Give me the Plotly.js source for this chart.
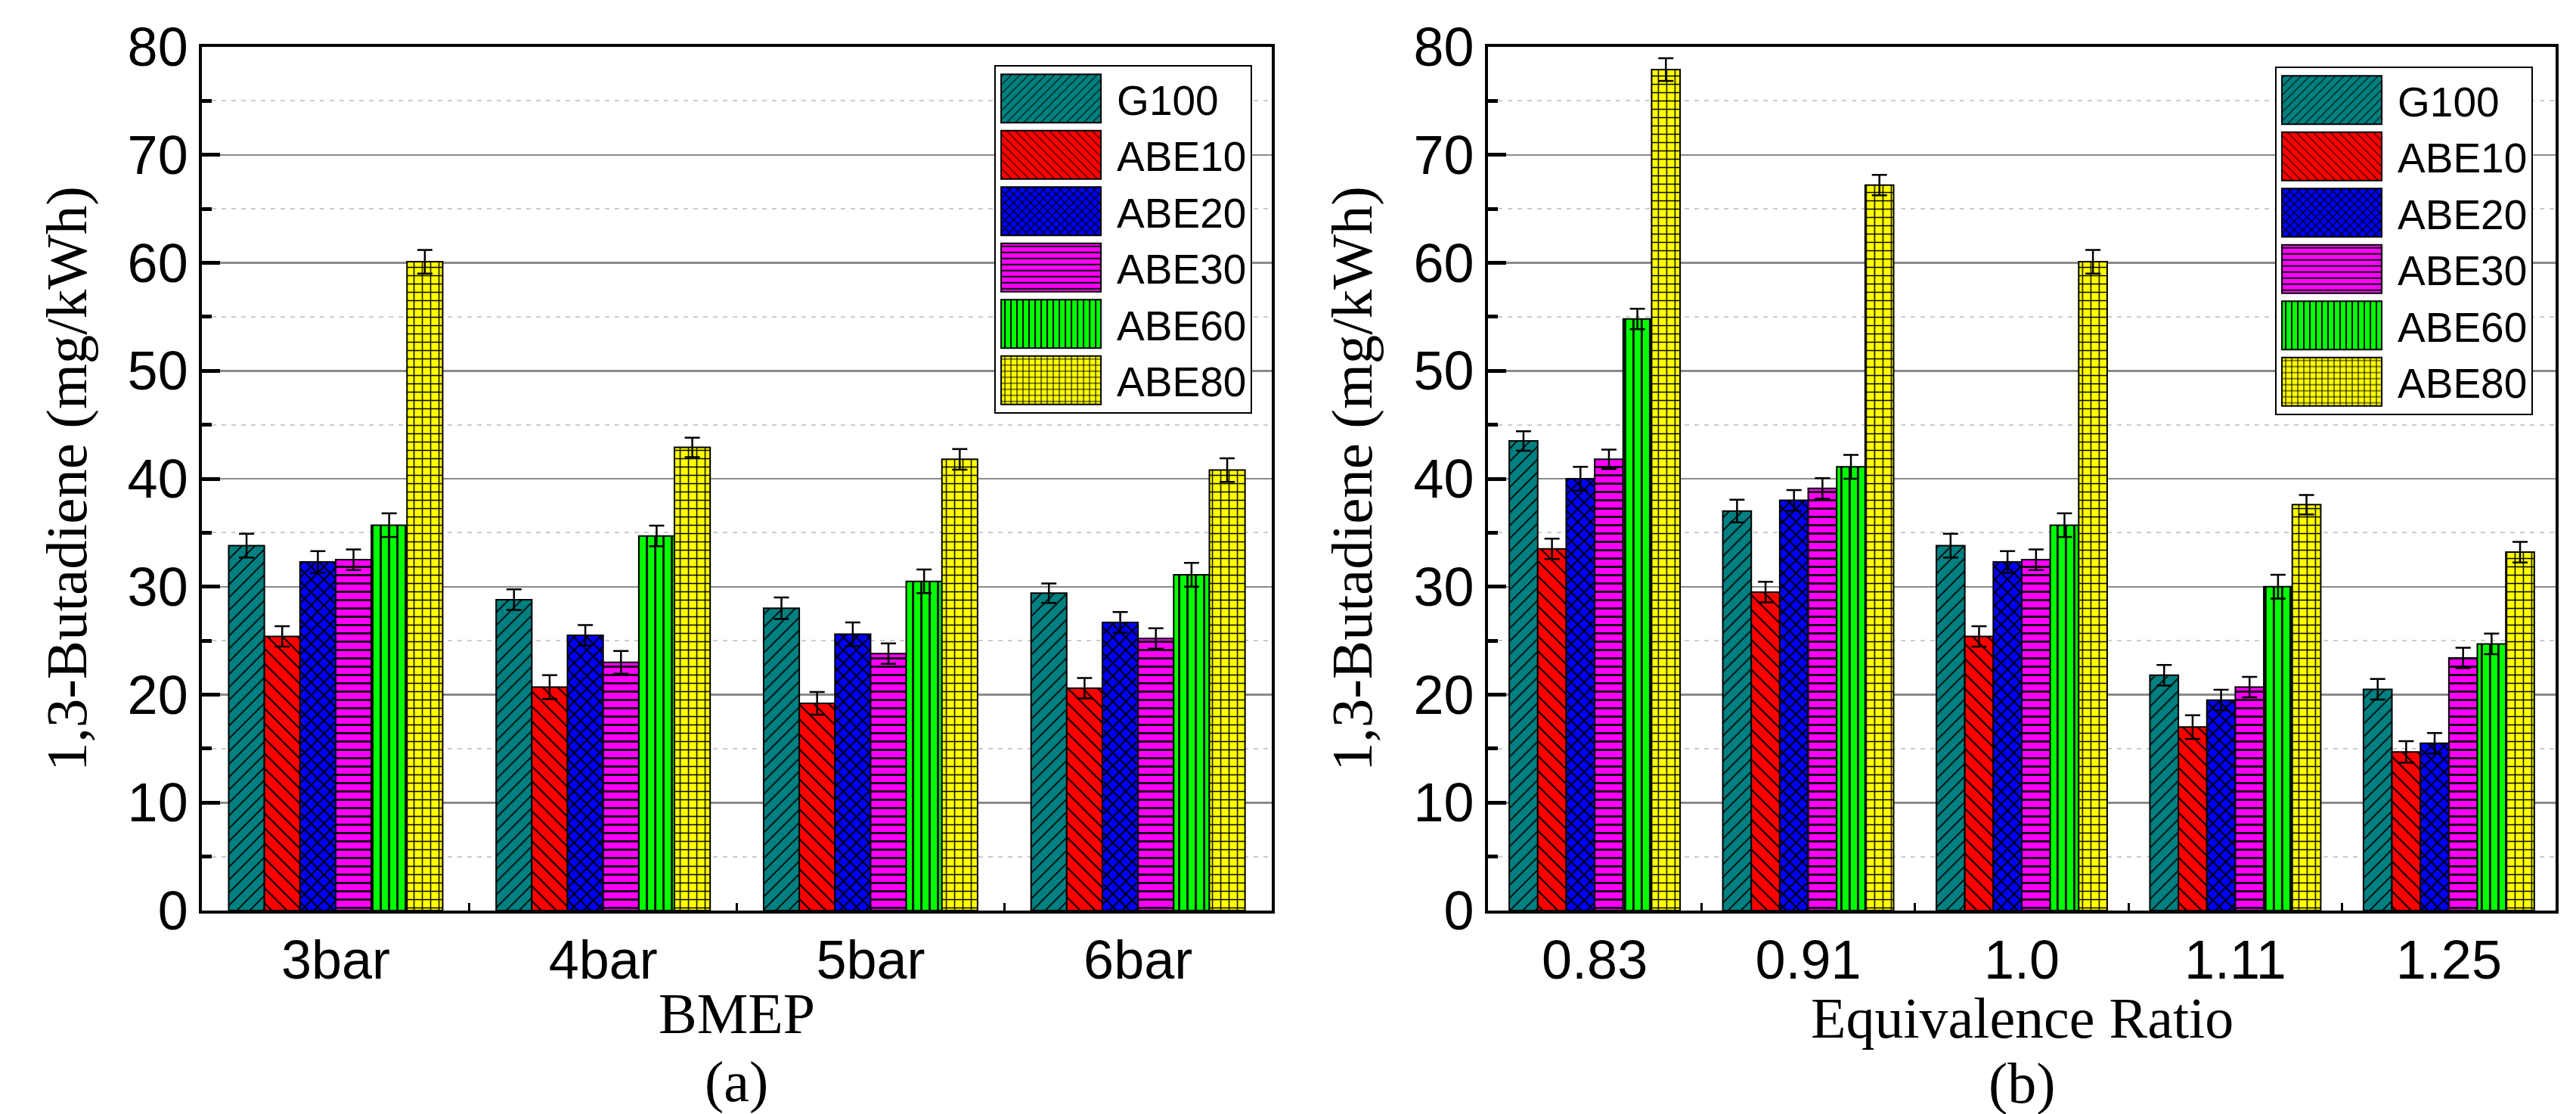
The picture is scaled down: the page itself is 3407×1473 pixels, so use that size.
<!DOCTYPE html>
<html>
<head>
<meta charset="utf-8">
<script src="https://cdn.plot.ly/plotly-3.0.1.min.js"></script>
<style>
	html, body { margin: 0; padding: 0; background: #ffffff; }
	#chart { width: 3407px; height: 1473px; }
</style>
</head>
<body>
<div id="chart"></div>
<script>

// categories of the two panels
var bmep_categories = ['3bar', '4bar', '5bar', '6bar'];
var ratio_categories = ['0.83', '0.91', '1.0', '1.11', '1.25'];

var fuel_names = ['G100', 'ABE10', 'ABE20', 'ABE30', 'ABE60', 'ABE80'];

// panel (a): 1,3-butadiene against BMEP (mg/kWh)
var bmep_g100 = [33.8, 28.8, 28.0, 29.4];
var bmep_abe10 = [25.4, 20.7, 19.2, 20.6];
var bmep_abe20 = [32.3, 25.5, 25.6, 26.7];
var bmep_abe30 = [32.5, 23.0, 23.8, 25.2];
var bmep_abe60 = [35.7, 34.7, 30.5, 31.1];
var bmep_abe80 = [60.1, 42.9, 41.8, 40.8];

var bmep_g100_err = [1.1, 0.95, 1.0, 0.9];
var bmep_abe10_err = [0.95, 1.1, 1.05, 0.95];
var bmep_abe20_err = [1.0, 0.95, 1.1, 0.95];
var bmep_abe30_err = [0.95, 1.05, 0.95, 0.95];
var bmep_abe60_err = [1.1, 0.95, 1.1, 1.1];
var bmep_abe80_err = [1.1, 0.9, 0.95, 1.1];

// panel (b): 1,3-butadiene against equivalence ratio (mg/kWh)
var ratio_g100 = [43.5, 37.0, 33.8, 21.8, 20.5];
var ratio_abe10 = [33.5, 29.5, 25.4, 17.0, 14.7];
var ratio_abe20 = [40.0, 38.0, 32.3, 19.5, 15.5];
var ratio_abe30 = [41.8, 39.1, 32.5, 20.7, 23.4];
var ratio_abe60 = [54.8, 41.1, 35.7, 30.0, 24.7];
var ratio_abe80 = [77.9, 67.2, 60.1, 37.6, 33.2];

var ratio_g100_err = [0.9, 1.05, 1.1, 0.95, 0.95];
var ratio_abe10_err = [0.95, 0.95, 0.95, 1.1, 1.0];
var ratio_abe20_err = [1.1, 0.95, 1.0, 0.95, 0.95];
var ratio_abe30_err = [0.9, 0.95, 0.95, 0.95, 0.95];
var ratio_abe60_err = [0.95, 1.1, 1.1, 1.1, 0.95];
var ratio_abe80_err = [1.05, 0.95, 1.1, 0.9, 0.95];

var bmep_values = [bmep_g100, bmep_abe10, bmep_abe20, bmep_abe30, bmep_abe60, bmep_abe80];
var bmep_errors = [bmep_g100_err, bmep_abe10_err, bmep_abe20_err, bmep_abe30_err, bmep_abe60_err, bmep_abe80_err];
var ratio_values = [ratio_g100, ratio_abe10, ratio_abe20, ratio_abe30, ratio_abe60, ratio_abe80];
var ratio_errors = [ratio_g100_err, ratio_abe10_err, ratio_abe20_err, ratio_abe30_err, ratio_abe60_err, ratio_abe80_err];

// fill colour and hatch of each fuel
var fuel_colours = ['#008080', '#ff0000', '#0000ff', '#ff00ff', '#00ff00', '#ffff00'];
var fuel_hatches = ['/', '\\', 'x', '-', '|', '+'];
var hatch_sizes = [12, 14, 12, 11, 11, 11];
var hatch_solidity = [0.14, 0.14, 0.3, 0.25, 0.25, 0.25];

var sans = 'Arial, "Liberation Sans", sans-serif';
var serif = '"Times New Roman", "Liberation Serif", serif';

function make_bar(i, x_values, y_values, errors, xaxis, yaxis, legend_id) {
	return {
		type: 'bar',
		name: fuel_names[i],
		x: x_values,
		y: y_values,
		xaxis: xaxis,
		yaxis: yaxis,
		legend: legend_id,
		marker: {
			color: fuel_colours[i],
			line: { color: '#000000', width: 2 },
			pattern: {
				shape: fuel_hatches[i],
				bgcolor: fuel_colours[i],
				fgcolor: '#000000',
				fgopacity: 1,
				size: hatch_sizes[i],
				solidity: hatch_solidity[i]
			}
		},
		error_y: {
			type: 'data',
			array: errors,
			visible: true,
			color: '#000000',
			thickness: 2.5,
			width: 10
		},
		hoverinfo: 'x+y+name'
	};
}

var data = [];
for (var i = 0; i < fuel_names.length; i++) {
	data.push(make_bar(i, bmep_categories, bmep_values[i], bmep_errors[i], 'x', 'y', 'legend'));
}
for (var i = 0; i < fuel_names.length; i++) {
	data.push(make_bar(i, ratio_categories, ratio_values[i], ratio_errors[i], 'x2', 'y2', 'legend2'));
}

function x_axis(domain) {
	return {
		domain: domain,
		type: 'category',
		showline: true,
		linewidth: 4,
		linecolor: '#000000',
		mirror: true,
		ticks: 'inside',
		tickson: 'boundaries',
		ticklen: 10,
		tickwidth: 3,
		tickcolor: '#000000',
		showgrid: false,
		zeroline: false,
		tickfont: { family: sans, size: 72, color: '#000000' },
		fixedrange: true
	};
}

function y_axis(domain, anchor) {
	return {
		domain: domain,
		anchor: anchor,
		range: [0, 80],
		dtick: 10,
		showline: true,
		linewidth: 4,
		linecolor: '#000000',
		mirror: true,
		ticks: 'inside',
		ticklen: 24,
		tickwidth: 5,
		tickcolor: '#000000',
		showgrid: true,
		gridcolor: '#8a8a8a',
		gridwidth: 2.5,
		zeroline: false,
		minor: {
			dtick: 5,
			ticks: 'inside',
			ticklen: 13,
			tickwidth: 5,
			tickcolor: '#000000',
			showgrid: true,
			gridcolor: '#cccccc',
			gridwidth: 2,
			griddash: '6px,7px'
		},
		tickfont: { family: sans, size: 72, color: '#000000' },
		title: {
			text: '1,3-Butadiene (mg/kWh)',
			font: { family: serif, size: 77, color: '#000000' },
			standoff: 30
		},
		fixedrange: true
	};
}

function legend_box(x, y) {
	return {
		x: x,
		y: y,
		xanchor: 'left',
		yanchor: 'top',
		bgcolor: '#ffffff',
		bordercolor: '#000000',
		borderwidth: 2,
		itemwidth: 150,
		font: { family: sans, size: 55, color: '#000000' },
		traceorder: 'normal'
	};
}

// texts under the panels: axis titles and panel letters
function caption(text, x, y_px) {
	return {
		text: text,
		xref: 'paper',
		yref: 'paper',
		x: x,
		y: 1 - y_px / 1473,
		xanchor: 'center',
		yanchor: 'middle',
		showarrow: false,
		font: { family: serif, size: 76, color: '#000000' }
	};
}

var layout = {
	width: 3407,
	height: 1473,
	margin: { l: 0, r: 0, t: 0, b: 0 },
	paper_bgcolor: '#ffffff',
	plot_bgcolor: '#ffffff',
	font: { family: sans, color: '#000000' },
	barmode: 'group',
	bargap: 0.2,
	bargroupgap: 0,
	showlegend: true,
	xaxis: x_axis([0.0784, 0.4937]),
	yaxis: y_axis([0.1826, 0.9579], 'x'),
	xaxis2: x_axis([0.5776, 0.9921]),
	yaxis2: y_axis([0.1826, 0.9579], 'x2'),
	legend: legend_box(0.386, 0.9416),
	legend2: legend_box(0.8832, 0.9403),
	annotations: [
		caption('BMEP', 0.286, 1340),
		caption('Equivalence Ratio', 0.785, 1346),
		caption('(a)', 0.286, 1430),
		caption('(b)', 0.785, 1432)
	]
};

var config = {
	responsive: false,
	displayModeBar: false,
	staticPlot: true
};

// the original figure has wide legend boxes, plotly draws a 12px square
function enlarge_legend_swatches() {
	var swatches = document.querySelectorAll('#chart .legendpoints path');
	for (var i = 0; i < swatches.length; i++) {
		swatches[i].setAttribute('d', 'M59,32H-73V-32H59Z');
	}
}

var gd = document.getElementById('chart');
Plotly.newPlot(gd, data, layout, config).then(function () {
	enlarge_legend_swatches();
	gd.on('plotly_afterplot', enlarge_legend_swatches);
	setTimeout(enlarge_legend_swatches, 50);
	setTimeout(enlarge_legend_swatches, 400);
});

</script>
</body>
</html>
